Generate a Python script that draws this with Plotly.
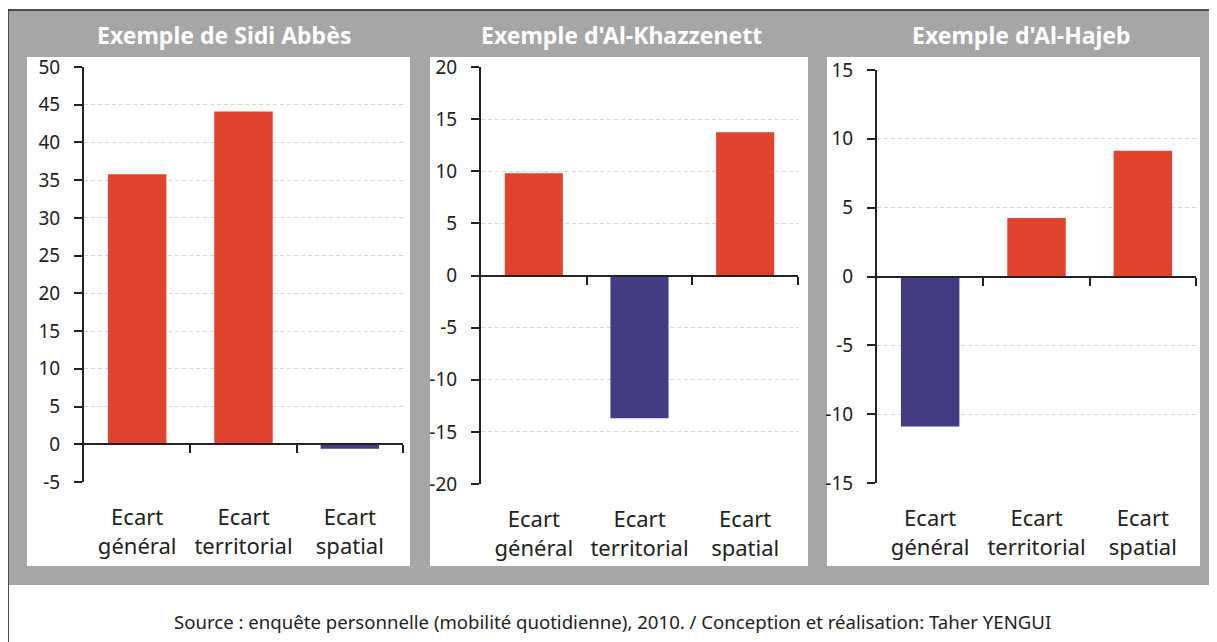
import plotly.graph_objects as go

# page body has an 8px default margin, so the figure is offset by 8px
OFF = 8
W, H = 1217 - OFF, 642 - OFF

categories = ["Ecart<br>général", "Ecart<br>territorial", "Ecart<br>spatial"]
titles = ["Exemple de Sidi Abbès", "Exemple d'Al-Khazzenett", "Exemple d'Al-Hajeb"]
sidi_abbes = [35.8, 44.1, -0.6]
al_khazzenett = [9.8, -13.7, 13.75]
al_hajeb = [-10.9, 4.25, 9.13]
y_ranges = [(-5, 50), (-20, 20), (-15, 15)]
y_ticks = [list(range(-5, 51, 5)), list(range(-20, 21, 5)), list(range(-15, 16, 5))]
source = "Source : enquête personnelle (mobilité quotidienne), 2010. / Conception et réalisation: Taher YENGUI"

RED = "#e0442f"
BLUE = "#433c82"
GRAY = "#a6a6a6"
FONT = "Noto Sans"

series = [sidi_abbes, al_khazzenett, al_hajeb]

# pixel layout helpers (reference page pixel coords)
def fx(px):
    return (px - OFF) / W

def fy(py):
    return 1 - (py - OFF) / H

x_dom_px = [(84, 403), (481, 798), (877, 1196)]
y_dom_px = [(67, 482), (67, 484), (70, 483)]
white_px = [(27, 410), (430, 808), (827, 1200)]
title_cx = [224, 621, 1021]

fig = go.Figure()
layout = dict(
    width=W, height=H, autosize=False,
    margin=dict(l=0, r=0, t=0, b=0, pad=0, autoexpand=False),
    paper_bgcolor="white", plot_bgcolor="#faf8f6",
    showlegend=False, bargap=0.45,
    font=dict(family=FONT, color="#222222"),
)

shapes = [
    dict(type="rect", xref="paper", yref="paper", x0=fx(8), x1=fx(1240), y0=fy(10), y1=fy(670),
         line=dict(color="#111111", width=1.5), fillcolor="white", layer="below"),
    dict(type="rect", xref="paper", yref="paper", x0=fx(9), x1=fx(1240), y0=fy(11), y1=fy(585),
         line=dict(width=0), fillcolor=GRAY, layer="below"),
]
annotations = []

for i in range(3):
    n = i + 1
    xa = "x" if n == 1 else f"x{n}"
    ya = "y" if n == 1 else f"y{n}"
    xkey = "xaxis" if n == 1 else f"xaxis{n}"
    ykey = "yaxis" if n == 1 else f"yaxis{n}"
    zx = f"x{n + 3}"
    zkey = f"xaxis{n + 3}"
    vals = series[i]
    colors = [RED if v >= 0 else BLUE for v in vals]
    fig.add_trace(go.Bar(x=categories, y=vals, marker=dict(color=colors, line=dict(width=0)),
                         xaxis=xa, yaxis=ya, hoverinfo="x+y"))
    # invisible companion trace so the zero-baseline axis is drawn
    fig.add_trace(go.Scatter(x=list(range(len(vals))), y=vals, mode="none",
                             xaxis=zx, yaxis=ya, hoverinfo="skip", showlegend=False))

    xd = [fx(x_dom_px[i][0]), fx(x_dom_px[i][1])]
    yd = [fy(y_dom_px[i][1]), fy(y_dom_px[i][0])]
    ymin, ymax = y_ranges[i]

    layout[xkey] = dict(domain=xd, anchor=ya, type="category", range=[-0.5, 2.5],
                        showline=False, showgrid=False, ticks="", zeroline=False,
                        automargin=False,
                        tickfont=dict(size=22, color="#222222", family=FONT),
                        ticklabelstandoff=20)
    layout[ykey] = dict(domain=yd, anchor=xa, range=[ymin, ymax], tickvals=y_ticks[i],
                        ticktext=[str(v) for v in y_ticks[i]], automargin=False,
                        showline=True, linecolor="#222222", linewidth=2,
                        ticks="outside", ticklen=8, tickwidth=2, tickcolor="#222222",
                        showgrid=True, gridcolor="#d6d6d6", gridwidth=1, griddash="4px,3px",
                        zeroline=False, tickfont=dict(size=19, color="#222222", family=FONT),
                        ticklabelstandoff=10)
    # zero-baseline axis with category boundary ticks
    zero_pos = yd[0] + (0 - ymin) / (ymax - ymin) * (yd[1] - yd[0])
    layout[zkey] = dict(domain=xd, overlaying=xa, anchor="free", position=zero_pos,
                        type="linear", range=[-0.5, 2.5], tickvals=[0.5, 1.5, 2.5],
                        showticklabels=False, showline=True, linecolor="#222222", linewidth=2,
                        ticks="outside", ticklen=8, tickwidth=2, tickcolor="#222222",
                        automargin=False, showgrid=False, zeroline=False, side="bottom")

    shapes.append(dict(type="rect", xref="paper", yref="paper",
                       x0=fx(white_px[i][0]), x1=fx(white_px[i][1]), y0=fy(566), y1=fy(57),
                       line=dict(width=0), fillcolor="white", layer="below"))
    annotations.append(dict(text=f"<b>{titles[i]}</b>", xref="paper", yref="paper",
                            x=fx(title_cx[i]), y=fy(35), xanchor="center", yanchor="middle",
                            showarrow=False,
                            font=dict(size=23, color="white", family=FONT, weight=900)))

annotations.append(dict(text=source, xref="paper", yref="paper", x=fx(612), y=fy(621),
                        xanchor="center", yanchor="middle", showarrow=False,
                        font=dict(size=18.6, color="#222222", family=FONT)))

layout["shapes"] = shapes
layout["annotations"] = annotations
fig.update_layout(**layout)
fig.write_html("out.html")
